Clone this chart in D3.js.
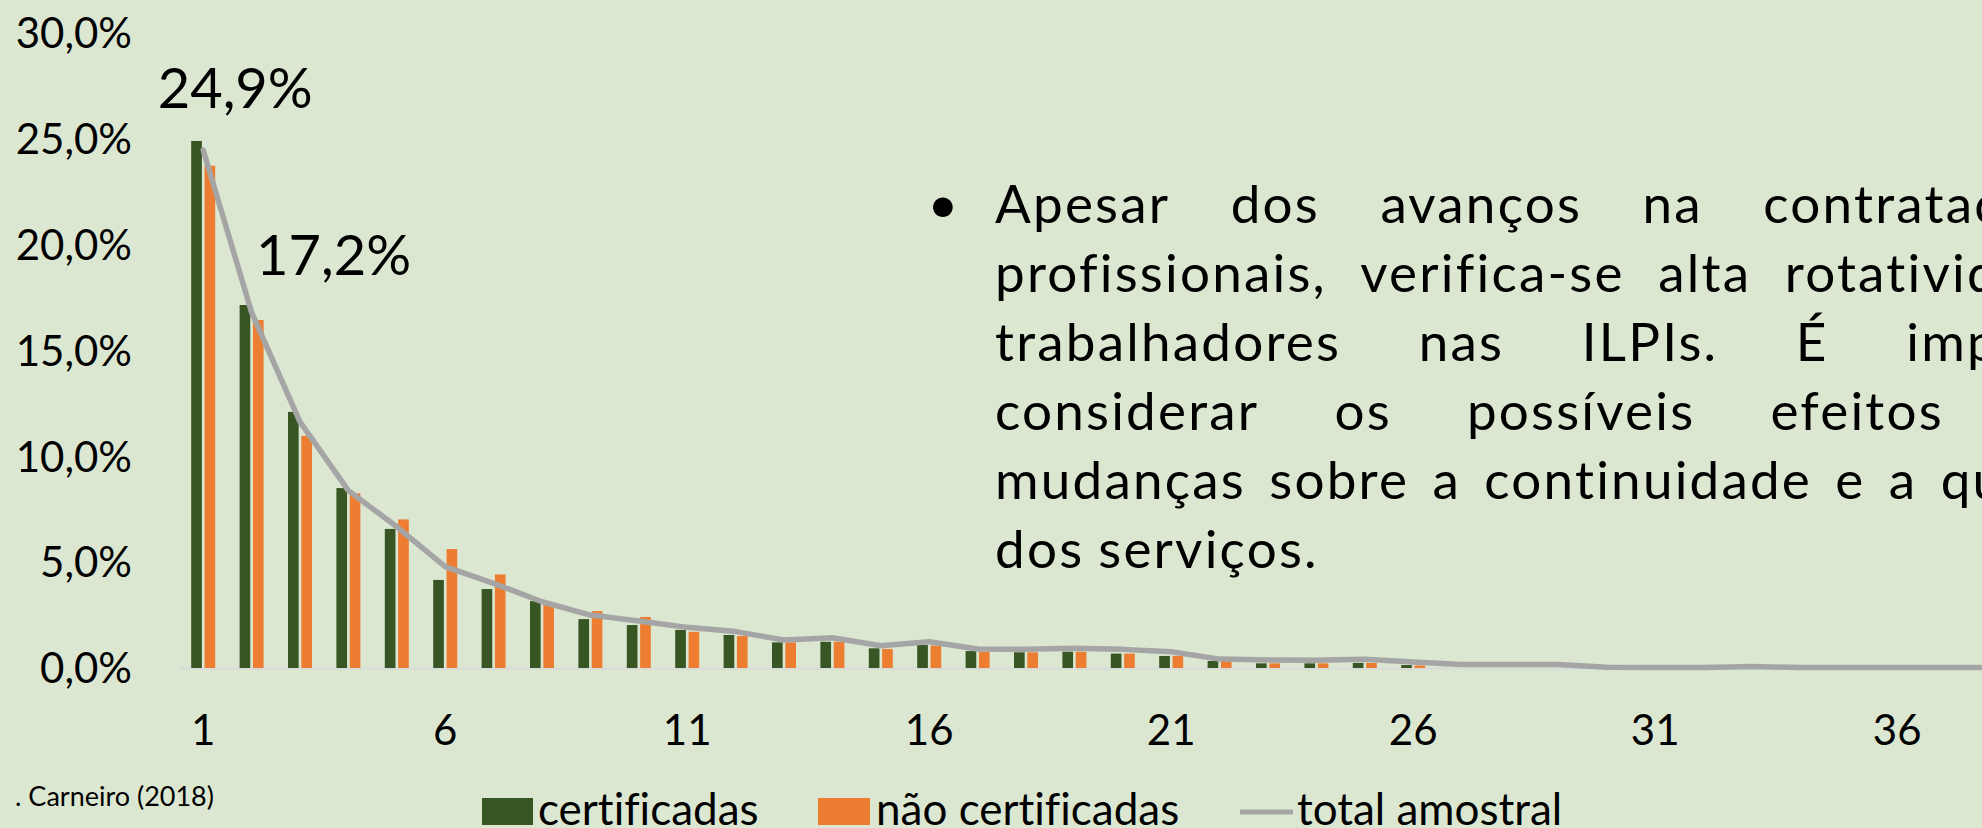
<!DOCTYPE html>
<html>
<head>
<meta charset="utf-8">
<script src="https://cdn.jsdelivr.net/npm/d3@7"></script>
<style>
  html, body { margin: 0; padding: 0; background: #dce7d1; overflow: hidden; }
  svg { display: block; font-family: Lato, "Open Sans", sans-serif; font-variant-ligatures: none; }
</style>
</head>
<body>
<script>
// faixas (categorias do eixo x)
const categories = [1, 2, 3, 4, 5, 6, 7, 8, 9, 10, 11, 12, 13, 14, 15, 16, 17, 18, 19, 20,
    21, 22, 23, 24, 25, 26, 27, 28, 29, 30, 31, 32, 33, 34, 35, 36, 37, 38, 39, 40]

// valores em %
const certificadas = [24.9, 17.15, 12.1, 8.5, 6.57, 4.16, 3.73, 3.16, 2.31, 2.03,
    1.80, 1.56, 1.21, 1.24, 0.93, 1.09, 0.80, 0.74, 0.77, 0.68,
    0.57, 0.33, 0.22, 0.22, 0.24, 0.14, 0, 0, 0, 0,
    0, 0, 0, 0, 0, 0, 0, 0, 0, 0]
const naoCertificadas = [23.73, 16.44, 10.97, 8.25, 7.02, 5.62, 4.42, 2.98, 2.69, 2.41,
    1.71, 1.51, 1.21, 1.24, 0.90, 1.06, 0.77, 0.74, 0.77, 0.68,
    0.57, 0.33, 0.22, 0.22, 0.24, 0.12, 0, 0, 0, 0,
    0, 0, 0, 0, 0, 0, 0, 0, 0, 0]
const totalAmostral = [24.47, 16.8, 11.63, 8.38, 6.67, 4.79, 4.0, 3.13, 2.5, 2.22,
    1.92, 1.72, 1.32, 1.43, 1.05, 1.24, 0.9, 0.88, 0.93, 0.88,
    0.77, 0.42, 0.38, 0.37, 0.41, 0.28, 0.16, 0.16, 0.17, 0.03,
    0.02, 0.02, 0.07, 0.02, 0.02, 0.02, 0.02, 0.02, 0.02, 0.02]

const yTicks = [0, 5, 10, 15, 20, 25, 30]
const xTickLabels = [1, 6, 11, 16, 21, 26, 31, 36]

const dataLabels = [
    { cat: 1, value: 24.9, text: '24,9%', dx: 32, dy: -33 },
    { cat: 2, value: 17.15, text: '17,2%', dx: 82, dy: -30 }
]

const seriesNames = ['certificadas', 'não certificadas', 'total amostral']
const colors = { cert: '#375623', nao: '#ed7d31', total: '#a5a5a5' }

const bulletLines = [
    ['Apesar', 'dos', 'avanços', 'na', 'contratação', 'de'],
    ['profissionais,', 'verifica-se', 'alta', 'rotatividade', 'de'],
    ['trabalhadores', 'nas', 'ILPIs.', 'É', 'importante'],
    ['considerar', 'os', 'possíveis', 'efeitos', 'dessas'],
    ['mudanças', 'sobre', 'a', 'continuidade', 'e', 'a', 'qualidade'],
    ['dos', 'serviços.']
]
const fonte = '. Carneiro (2018)'

const W = 1982, H = 828

const svg = d3.select('body').append('svg')
    .attr('width', W)
    .attr('height', H)

svg.append('rect')
    .attr('width', W)
    .attr('height', H)
    .attr('fill', '#dce7d1')

const step = 48.4
const x = d3.scaleBand()
    .domain(categories)
    .range([179, 179 + categories.length * step])
    .padding(0)

const xs = d3.scaleBand()
    .domain(['cert', 'nao'])
    .range([step / 2 - 12, step / 2 + 12])
    .paddingInner(0.2)

const y = d3.scaleLinear()
    .domain([0, 30])
    .range([668, 33])

const locale = d3.formatLocale({ decimal: ',', thousands: '.', grouping: [3], currency: ['', ''] })
const pct = v => locale.format('.1f')(v) + '%'

// eixo y
const yAxis = svg.append('g')
    .attr('transform', 'translate(132,0)')
    .call(d3.axisLeft(y).tickValues(yTicks).tickSize(0).tickPadding(0).tickFormat(pct))
yAxis.select('.domain').remove()
yAxis.selectAll('text')
    .attr('dy', '0.35em')
    .style('font-size', '42px')
    .style('font-family', 'Lato')
    .attr('fill', '#000')

// eixo x
const xAxis = svg.append('g')
    .attr('transform', `translate(0,${y(0)})`)
    .call(d3.axisBottom(x).tickValues(xTickLabels).tickSize(0).tickSizeOuter(0))
xAxis.select('.domain')
    .attr('stroke', '#d9d9d9')
    .attr('stroke-width', 2)
xAxis.selectAll('text')
    .attr('y', 77)
    .attr('dy', 0)
    .style('font-size', '42px')
    .style('font-family', 'Lato')
    .attr('fill', '#000')

// barras
const bars = svg.append('g')
bars.selectAll('.cert')
    .data(categories)
    .enter().append('rect')
    .attr('x', (d, i) => x(d) + xs('cert'))
    .attr('y', (d, i) => y(certificadas[i]))
    .attr('width', xs.bandwidth())
    .attr('height', (d, i) => y(0) - y(certificadas[i]))
    .attr('fill', colors.cert)

bars.selectAll('.nao')
    .data(categories)
    .enter().append('rect')
    .attr('x', (d, i) => x(d) + xs('nao'))
    .attr('y', (d, i) => y(naoCertificadas[i]))
    .attr('width', xs.bandwidth())
    .attr('height', (d, i) => y(0) - y(naoCertificadas[i]))
    .attr('fill', colors.nao)

// linha total
const line = d3.line()
    .x((d, i) => x(categories[i]) + step / 2)
    .y(d => y(d))

svg.append('path')
    .datum(totalAmostral)
    .attr('d', line)
    .attr('fill', 'none')
    .attr('stroke', colors.total)
    .attr('stroke-width', 5.5)
    .attr('stroke-linejoin', 'round')
    .attr('stroke-linecap', 'round')

// rótulos
svg.selectAll('.lbl')
    .data(dataLabels)
    .enter().append('text')
    .attr('x', d => x(d.cat) + step / 2 + d.dx)
    .attr('y', d => y(d.value) + d.dy)
    .attr('text-anchor', 'middle')
    .style('font-size', '56px')
    .text(d => d.text)

// texto com marcador, justificado
const txt = svg.append('g').style('font-size', '53px').style('letter-spacing', '2.2px')
txt.append('text')
    .attr('x', 944)
    .attr('y', 223)
    .attr('text-anchor', 'middle')
    .text('•')

const left = 995, right = 2185, lead = 69
bulletLines.forEach((words, li) => {
    const ty = 223 + li * lead
    const nodes = words.map(w => txt.append('text').attr('y', ty).text(w))
    const widths = nodes.map(n => n.node().getComputedTextLength())
    const total = d3.sum(widths)
    const last = li === bulletLines.length - 1
    const gap = last ? 14 : (right - left - total) / (words.length - 1)
    let cx = left
    nodes.forEach((n, k) => {
        n.attr('x', cx)
        cx += widths[k] + gap
    })
})

// fonte
svg.append('text')
    .attr('x', 214)
    .attr('y', 806)
    .attr('text-anchor', 'end')
    .style('font-size', '27px')
    .text(fonte)

// legenda
const legend = svg.append('g')
legend.append('rect').attr('x', 482).attr('y', 798).attr('width', 51).attr('height', 27).attr('fill', colors.cert)
legend.append('text').attr('x', 538).attr('y', 825).style('font-size', '44px').text(seriesNames[0])
legend.append('rect').attr('x', 818).attr('y', 798).attr('width', 52).attr('height', 27).attr('fill', colors.nao)
legend.append('text').attr('x', 876).attr('y', 825).style('font-size', '44px').text(seriesNames[1])
legend.append('line').attr('x1', 1240).attr('x2', 1293).attr('y1', 812).attr('y2', 812)
    .attr('stroke', colors.total).attr('stroke-width', 5)
legend.append('text').attr('x', 1297).attr('y', 825).style('font-size', '44px').text(seriesNames[2])
</script>
</body>
</html>
